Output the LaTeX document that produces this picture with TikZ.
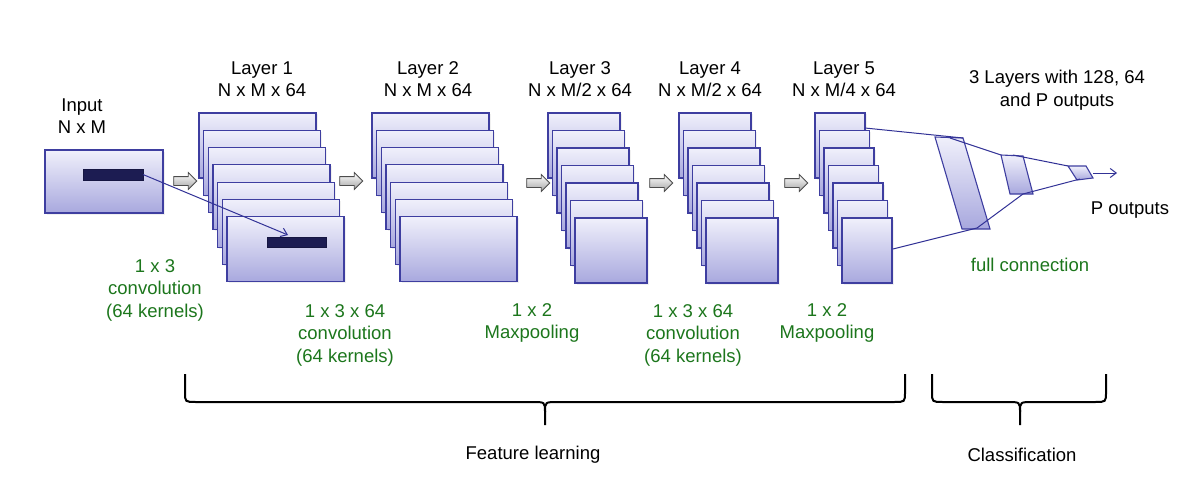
\documentclass[tikz,border=0pt]{standalone}
\usepackage{fontspec}
\setmainfont{Liberation Sans}
\usetikzlibrary{shapes.arrows,shadows,arrows.meta,calc}
\definecolor{edgeblue}{RGB}{62,62,160}
\definecolor{linkblue}{RGB}{50,50,150}
\definecolor{topfill}{RGB}{240,240,251}
\definecolor{botfill}{RGB}{168,168,222}
\definecolor{darkbar}{RGB}{28,28,82}
\definecolor{txtgreen}{RGB}{28,118,28}
\tikzset{
  fmap/.style={draw=edgeblue, line width=1.1pt, top color=topfill, bottom color=botfill,
    inner sep=0pt, outer sep=0pt, anchor=north west,
    drop shadow={opacity=0.12, shadow xshift=1.5pt, shadow yshift=-1.5pt}},
  fcpar/.style={draw=edgeblue, line width=1.1pt, top color=topfill, bottom color=botfill},
  barbox/.style={fill=darkbar, draw=darkbar!80!black, inner sep=0pt, outer sep=0pt, anchor=north west,
    drop shadow={opacity=0.2, shadow xshift=1pt, shadow yshift=-1pt}},
  link/.style={draw=linkblue, line width=1pt},
  grayarrow/.style={single arrow, draw=black!70, line width=0.8pt, top color=white, bottom color=black!35,
    minimum height=23pt, single arrow head extend=4pt, inner sep=0pt, outer sep=0pt},
  lbl/.style={font=\fontsize{18.5}{22.5}\selectfont, align=center, text=black},
  glbl/.style={font=\fontsize{18.5}{22.5}\selectfont, align=center, text=txtgreen},
  bracket/.style={draw=black, line width=2pt},
}
\newcommand{\mystack}[7]{%
  \foreach \i in {0,...,6} {
    \node[fmap, minimum width=#4pt, minimum height=#5pt] (#1-\i) at ({#2+\i*#6},{#3+\i*#7}) {};
  }%
}
\newcommand{\shaft}{\rule{0pt}{8pt}}
\begin{document}
\begin{tikzpicture}[x=1pt,y=-1pt]
\useasboundingbox (0,0) rectangle (1188,484);

% input
\node[fmap, minimum width=118pt, minimum height=63pt] (input) at (45,150) {};
\node[barbox, minimum width=60pt, minimum height=11pt] (bar0) at (83,169) {};

% stacks
\mystack{L1}{199}{113}{117}{65}{4.67}{17.3}
\node[barbox, minimum width=59pt, minimum height=10pt] (bar1) at (267,237) {};
\mystack{L2}{372}{113}{117}{65}{4.67}{17.3}
\mystack{L3}{548}{113}{72}{65}{4.5}{17.5}
\mystack{L4}{679}{113}{72}{65}{4.5}{17.5}
\mystack{L5}{815}{113}{50}{65}{4.5}{17.5}

% convolution window link
\coordinate (bartgt) at (288,235);
\draw[link, -{Straight Barb[length=6pt,width=9pt]}] (bar0.east) -- (bartgt);

% gray arrows
\node[grayarrow] (g1) at (183,181) {\shaft};
\node[grayarrow] (g2) at (349,181) {\shaft};
\node[grayarrow] (g3) at (536,183) {\shaft};
\node[grayarrow] (g4) at (659,183) {\shaft};
\node[grayarrow] (g5) at (794,183) {\shaft};

% fully connected layers
\coordinate (b1) at (935,137); \coordinate (b2) at (963,138);
\coordinate (b3) at (990,229); \coordinate (b4) at (962,229);
\coordinate (m1) at (1001,155); \coordinate (m2) at (1023,156);
\coordinate (m3) at (1033,194); \coordinate (m4) at (1010,194);
\coordinate (s1) at (1068,166); \coordinate (s2) at (1086,166);
\coordinate (s3) at (1093,178); \coordinate (s4) at (1077,180);
\draw[fcpar] (b1) -- (b2) -- (b3) -- (b4) -- cycle;
\draw[fcpar] (m1) -- (m2) -- (m3) -- (m4) -- cycle;
\draw[fcpar] (s1) -- (s2) -- (s3) -- (s4) -- cycle;

\coordinate (l5top) at (865,128);
\coordinate (l5bot) at (893,249);
\coordinate (btop) at (950,138);
\coordinate (bbot) at (977,228);
\coordinate (mtop) at (1013,155);
\coordinate (mbot) at (1023,194);
\coordinate (sbot) at (1080,179);
\coordinate (sout) at (1093,173);
\coordinate (outend) at (1117,173);
\draw[link] (l5top) -- (b2);
\draw[link] (btop) -- (m1);
\draw[link] (mtop) -- (s1);
\draw[link] (l5bot) -- (bbot);
\draw[link] (bbot) -- (mbot);
\draw[link] (mbot) -- (sbot);
\draw[link, -{Straight Barb[length=6pt,width=9pt]}] (sout) -- (outend);

% top labels
\node[lbl] (tin) at (82,116) {Input\\N x M};
\node[lbl] (t1) at (262,79) {Layer 1\\N x M x 64};
\node[lbl] (t2) at (428,79) {Layer 2\\N x M x 64};
\node[lbl] (t3) at (580,79) {Layer 3\\N x M/2 x 64};
\node[lbl] (t4) at (710,79) {Layer 4\\N x M/2 x 64};
\node[lbl] (t5) at (844,79) {Layer 5\\N x M/4 x 64};
\node[lbl] (t6) at (1057,90) {3 Layers with 128, 64\\and P outputs};
\node[lbl] (tp) at (1130,210) {P outputs};

% green labels
\node[glbl] (c1) at (155,290) {1 x 3\\convolution\\(64 kernels)};
\node[glbl] (c2) at (345,335) {1 x 3 x 64\\convolution\\(64 kernels)};
\node[glbl] (c3) at (532,323) {1 x 2\\Maxpooling};
\node[glbl] (c4) at (693,335) {1 x 3 x 64\\convolution\\(64 kernels)};
\node[glbl] (c5) at (827,323) {1 x 2\\Maxpooling};
\node[glbl] (c6) at (1030,265) {full connection};

% brackets
\coordinate (fa) at (185,374); \coordinate (fb) at (905,374); \coordinate (ftip) at (545,425);
\draw[bracket] (fa) -- (185,392) .. controls (185,402) .. (196,402) -- (532,402)
  .. controls (545,402) .. (545,412) -- (ftip);
\draw[bracket] (fb) -- (905,392) .. controls (905,402) .. (894,402) -- (558,402)
  .. controls (545,402) .. (545,412);
\coordinate (ca) at (932,374); \coordinate (cb) at (1106,374); \coordinate (ctip) at (1020,425);
\draw[bracket] (ca) -- (932,392) .. controls (932,402) .. (943,402) -- (1007,402)
  .. controls (1020,402) .. (1020,412) -- (ctip);
\draw[bracket] (cb) -- (1106,392) .. controls (1106,402) .. (1095,402) -- (1033,402)
  .. controls (1020,402) .. (1020,412);

\node[lbl] (fl) at (533,455) {Feature learning};
\node[lbl] (cl) at (1022,455) {Classification};
\end{tikzpicture}
\end{document}
